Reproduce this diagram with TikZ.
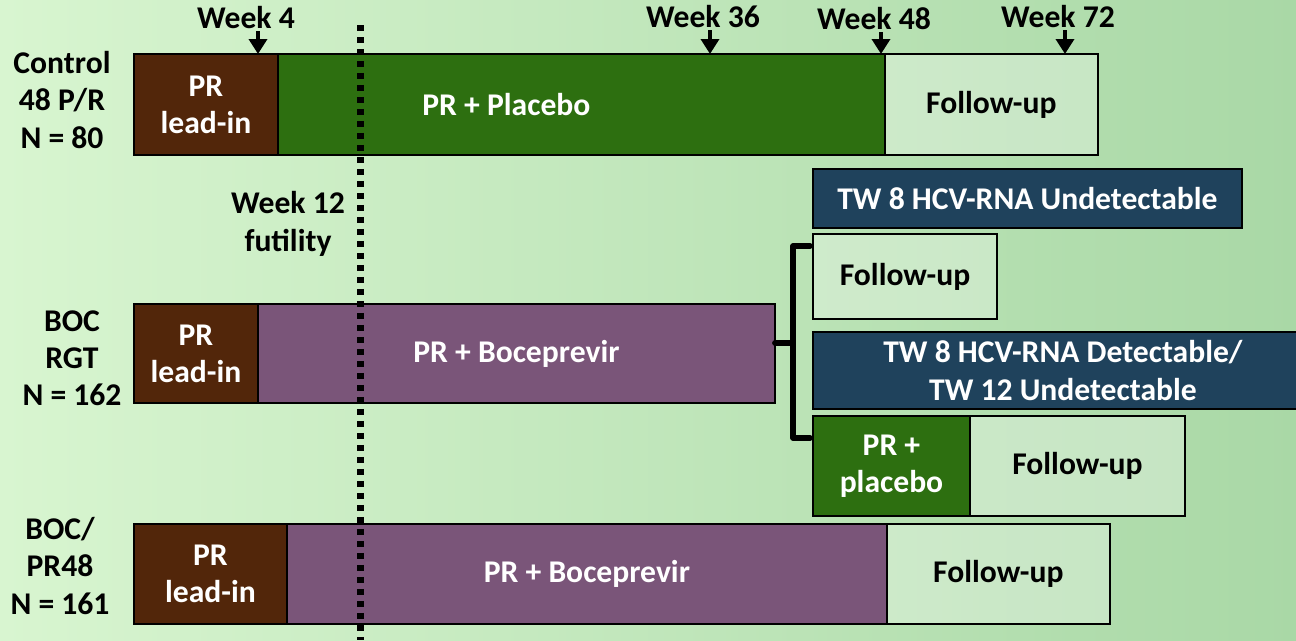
\documentclass[tikz,border=0pt]{standalone}
\usepackage{fontspec}
\setmainfont{Carlito}
\usepackage{tikz}
\usetikzlibrary{arrows.meta,positioning}
\usepackage{xcolor}

\definecolor{bgleft}{HTML}{D8F5D0}
\definecolor{bgright}{HTML}{A9D8A6}
\definecolor{leadbrown}{HTML}{52260A}
\definecolor{plgreen}{HTML}{2D6F10}
\definecolor{bocpurple}{HTML}{7A5579}
\definecolor{twblue}{HTML}{1F425C}

\begin{document}
\begin{tikzpicture}[
      x=0.02cm, y=-0.02cm,
      txt/.style={font=\fontsize{18}{21.2}\selectfont\bfseries},
      phase/.style={draw,line width=1.1pt,outer sep=0pt,inner sep=0pt,
                    align=center,text=white,txt},
      leadin/.style={phase,fill=leadbrown},
      placebo/.style={phase,fill=plgreen},
      boc/.style={phase,fill=bocpurple},
      twbox/.style={phase,fill=twblue},
      fupbox/.style={phase,fill=white,fill opacity=0.3,text opacity=1,
                     text=black},
      armlabel/.style={txt,align=center,inner sep=1pt},
      weeklabel/.style={txt,inner sep=1pt},
      weekarrow/.style={-{Triangle[width=0.36cm,length=0.3cm]},
                        line width=2pt},
      futline/.style={line width=0.14cm,dash pattern=on 0.12cm off 0.12cm},
      bracket/.style={line width=0.11cm,line join=round,line cap=round},
    ]

    % background
    \useasboundingbox (0,0) rectangle (1296,640);
    \shade[left color=bgleft,right color=bgright] (0,0) rectangle (1296,640);

    % Control arm
    \node[leadin,minimum width=2.88cm,minimum height=2.02cm,
          anchor=north west] (lead1) at (134,54) {PR\\lead-in};
    \node[placebo,minimum width=12.14cm,minimum height=2.02cm,
          right=0pt of lead1,
          label={[txt,text=white,xshift=-1.5cm]center:PR + Placebo}]
          (plac1) {};
    \node[fupbox,minimum width=4.26cm,minimum height=2.02cm,
          right=0pt of plac1] (fup1) {Follow-up};
    \node[armlabel] (arm1) at (62,100) {Control\\48 P/R\\N = 80};

    % week markers
    \node[weeklabel] (wk4)  at (246,18) {Week 4};
    \node[weeklabel] (wk36) at (703,17) {Week 36};
    \node[weeklabel] (wk48) at (874,19) {Week 48};
    \node[weeklabel] (wk72) at (1058,17) {Week 72};
    \coordinate (t4)  at (258,54);
    \coordinate (t36) at (710,54);
    \coordinate (t48) at (881,54);
    \coordinate (t72) at (1065,54);

    % BOC RGT arm
    \node[leadin,minimum width=2.48cm,minimum height=1.98cm,
          anchor=north west] (lead2) at (134,304) {PR\\lead-in};
    \node[boc,minimum width=10.34cm,minimum height=1.98cm,
          right=0pt of lead2] (boc2) {PR + Boceprevir};
    \node[armlabel] (arm2) at (72,358) {BOC\\RGT\\N = 162};

    % RGT branches
    \node[twbox,minimum width=8.58cm,minimum height=1.18cm,
          anchor=north west] (und) at (813,169)
      {TW 8 HCV-RNA Undetectable};
    \node[fupbox,minimum width=3.68cm,minimum height=1.7cm,
          anchor=north west] (fupA) at (813,234) {Follow-up};
    \node[twbox,minimum width=10cm,minimum height=1.54cm,
          anchor=north west] (det) at (813,332)
      {TW 8 HCV-RNA Detectable/\\TW 12 Undetectable};
    \node[placebo,minimum width=3.14cm,minimum height=2cm,
          anchor=north west] (plac2) at (813,416) {PR +\\placebo};
    \node[fupbox,minimum width=4.3cm,minimum height=2cm,
          right=0pt of plac2] (fupB) {Follow-up};

    % BOC/PR48 arm
    \node[leadin,minimum width=3.06cm,minimum height=2cm,
          anchor=north west] (lead3) at (134,524) {PR\\lead-in};
    \node[boc,minimum width=12cm,minimum height=2cm,
          right=0pt of lead3] (boc3) {PR + Boceprevir};
    \node[fupbox,minimum width=4.46cm,minimum height=2cm,
          right=0pt of boc3] (fup3) {Follow-up};
    \node[armlabel] (arm3) at (60,566) {BOC/\\PR48\\N = 161};

    % futility
    \node[armlabel] (futil) at (288,224) {Week 12\\futility};
    \coordinate (dtop) at (360,25);
    \coordinate (dbot) at (360,640);

    % Arrows
    \draw[weekarrow] (t4 |- wk4.south)   -- (t4);
    \draw[weekarrow] (t36 |- wk36.south) -- (t36);
    \draw[weekarrow] (t48 |- wk48.south) -- (t48);
    \draw[weekarrow] (t72 |- wk72.south) -- (t72);

    % bracket
    \coordinate (brtop) at (810,246);
    \coordinate (brmid) at (793,343);
    \coordinate (brbot) at (810,438);
    \draw[bracket] (brtop) -| (brmid) |- (brbot);
    \draw[bracket] (brmid) -- (boc2.east |- brmid);

    \draw[futline] (dtop) -- (dbot);

  \end{tikzpicture}
\end{document}
